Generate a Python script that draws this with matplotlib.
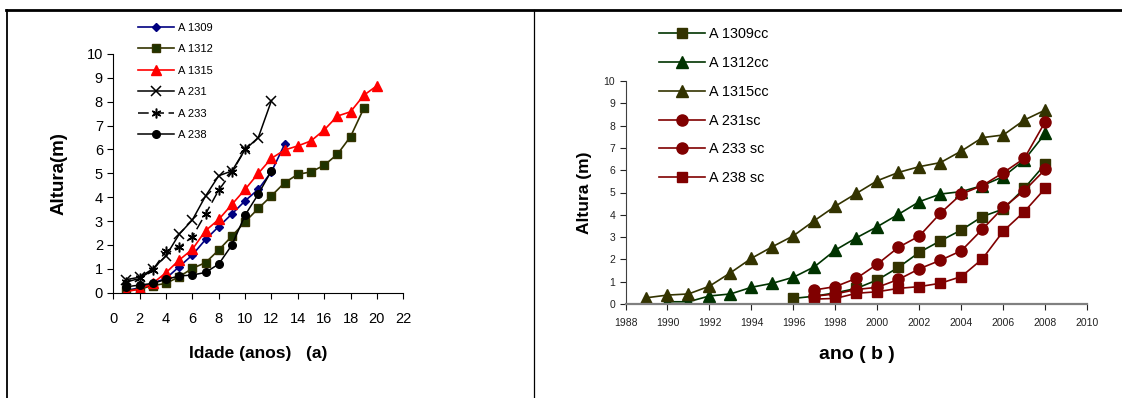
import numpy as np
import matplotlib.pyplot as plt
from matplotlib.lines import Line2D

plt.rcParams['font.family'] = ['Liberation Sans', 'DejaVu Sans']

# (a) height by age
idade = np.arange(1, 21)
a1309 = [0.1, 0.2, 0.4, 0.6, 1.09, 1.58, 2.23, 2.77, 3.3, 3.85, 4.33, 5.07, 6.22]
a1312 = [0.1, 0.15, 0.3, 0.39, 0.67, 1.02, 1.26, 1.79, 2.37, 2.97, 3.53, 4.06,
         4.61, 4.96, 5.06, 5.34, 5.8, 6.54, 7.72]
a1315 = [0.05, 0.15, 0.4, 0.84, 1.37, 1.82, 2.6, 3.07, 3.7, 4.33, 5.0, 5.63,
         5.98, 6.15, 6.36, 6.82, 7.4, 7.58, 8.27, 8.67]
a231 = [0.55, 0.65, 1.0, 1.55, 2.45, 3.05, 4.05, 4.9, 5.1, 6.0, 6.5, 8.05]
a233 = [0.45, 0.6, 0.95, 1.75, 1.9, 2.35, 3.3, 4.3, 5.05, 6.0]
a238 = [0.25, 0.32, 0.39, 0.56, 0.7, 0.74, 0.85, 1.2, 2.0, 3.25, 4.13, 5.11]

# (b) height by year
ano = np.arange(1989, 2009)
a1309cc = [0.25, 0.35, 0.5, 0.7, 1.08, 1.64, 2.32, 2.83, 3.32, 3.92, 4.26, 5.19, 6.28]
a1312cc = [0.1, 0.1, 0.36, 0.45, 0.75, 0.93, 1.2, 1.67, 2.42, 2.97, 3.47, 4.02,
           4.59, 4.93, 5.04, 5.31, 5.71, 6.46, 7.65]
a1315cc = [0.28, 0.4, 0.45, 0.8, 1.4, 2.05, 2.57, 3.06, 3.74, 4.39, 4.96, 5.53,
           5.9, 6.16, 6.34, 6.86, 7.46, 7.58, 8.25, 8.7]
a231sc = [0.63, 0.78, 1.15, 1.79, 2.54, 3.05, 4.07, 4.93, 5.31, 5.89, 6.53, 8.18]
a233sc = [0.35, 0.45, 0.65, 0.75, 1.1, 1.58, 1.96, 2.39, 3.35, 4.33, 5.08, 6.04]
a238sc = [0.22, 0.25, 0.48, 0.55, 0.7, 0.78, 0.93, 1.23, 2.02, 3.27, 4.14, 5.19]

fig = plt.figure(figsize=(11.22, 3.98), dpi=100)

# frame lines around the two panels
fig.add_artist(Line2D([6 / 1122, 1], [1 - 10 / 398] * 2, color='black', lw=2))
fig.add_artist(Line2D([6.5 / 1122] * 2, [0, 1 - 10 / 398], color='black', lw=1.3))
fig.add_artist(Line2D([533.5 / 1122] * 2, [0, 1 - 10 / 398], color='black', lw=0.9))

# ---- panel (a)
ax1 = fig.add_axes([113.3 / 1122, 1 - 292.7 / 398, 290 / 1122, 238.7 / 398])
ax1.plot(idade[:len(a1309)], a1309, color='#000080', marker='D', ms=4.5, lw=1.2,
         label='A 1309')
ax1.plot(idade[:len(a1312)], a1312, color='#333300', marker='s', ms=5.5, lw=1.2,
         mfc='#1f3300', mec='#333300', label='A 1312')
ax1.plot(idade[:len(a1315)], a1315, color='#ff0000', marker='^', ms=7, lw=1.2,
         label='A 1315')
ax1.plot(idade[:len(a231)], a231, color='black', marker='x', ms=7, mew=1.1, lw=1.1,
         label='A 231')
ax1.plot(idade[:len(a233)], a233, color='black', marker=(6, 2, 0), ms=7, mew=1.1,
         lw=1.1, ls=(0, (7, 3)), label='A 233')
ax1.plot(idade[:len(a238)], a238, color='black', marker='o', ms=5.5, lw=1.1,
         label='A 238')
ax1.set_xlim(0, 22)
ax1.set_ylim(0, 10)
ax1.set_xticks(np.arange(0, 23, 2))
ax1.set_yticks(np.arange(0, 11, 1))
for s in ['top', 'right']:
    ax1.spines[s].set_visible(False)
ax1.tick_params(labelsize=10.5, length=4, direction='out')
ax1.tick_params(axis='x', pad=10)
ax1.set_ylabel('Altura(m)', fontsize=13.5, fontweight='bold', labelpad=14)
ax1.set_xlabel('Idade (anos)   (a)', fontsize=12.5, fontweight='bold', labelpad=14)
ax1.legend(loc='upper left', bbox_to_anchor=(132 / 1122, 1 - 17 / 398),
           bbox_transform=fig.transFigure, frameon=False, fontsize=8,
           handlelength=3.3, handletextpad=0.3, labelspacing=1.04,
           borderpad=0)

# ---- panel (b)
ax2 = fig.add_axes([625.5 / 1122, 1 - 304 / 398, 461.8 / 1122, 223 / 398])
ax2.plot(ano[7:7 + len(a1309cc)], a1309cc, color='#003300', marker='s', ms=7.5,
         lw=1.2, mfc='#333300', mec='#333300', label='A 1309cc')
ax2.plot(ano[1:1 + len(a1312cc)], a1312cc, color='#003300', marker='^', ms=8.5,
         lw=1.2, mfc='#003300', mec='#003300', label='A 1312cc')
ax2.plot(ano[:len(a1315cc)], a1315cc, color='#333300', marker='^', ms=8.5,
         lw=1.2, mfc='#333300', mec='#333300', label='A 1315cc')
ax2.plot(ano[8:8 + len(a231sc)], a231sc, color='#800000', marker='o', ms=8,
         lw=1.2, label='A 231sc')
ax2.plot(ano[8:8 + len(a233sc)], a233sc, color='#800000', marker='o', ms=8,
         lw=1.2, label='A 233 sc')
ax2.plot(ano[8:8 + len(a238sc)], a238sc, color='#800000', marker='s', ms=7.5,
         lw=1.2, label='A 238 sc')
ax2.set_xlim(1988, 2010)
ax2.set_ylim(0, 10)
ax2.set_xticks(np.arange(1988, 2011, 2))
ax2.set_yticks(np.arange(0, 11, 1))
for s in ['top', 'right']:
    ax2.spines[s].set_visible(False)
ax2.spines['bottom'].set_color('#808080')
ax2.spines['bottom'].set_linewidth(1.6)
ax2.spines['left'].set_color('#404040')
ax2.tick_params(labelsize=7.5, length=4, direction='out', colors='#222222')
ax2.tick_params(axis='x', pad=6)
ax2.set_ylabel('Altura (m)', fontsize=12.5, fontweight='bold', labelpad=8)
ax2.set_xlabel('ano ( b )', fontsize=14, fontweight='bold', labelpad=13)
ax2.legend(loc='upper left', bbox_to_anchor=(652 / 1122, 1 - 20 / 398),
           bbox_transform=fig.transFigure, frameon=False, fontsize=10.4,
           handlelength=3.2, handletextpad=0.28, labelspacing=1.025,
           borderpad=0)

fig.savefig('out.png', dpi=100)
